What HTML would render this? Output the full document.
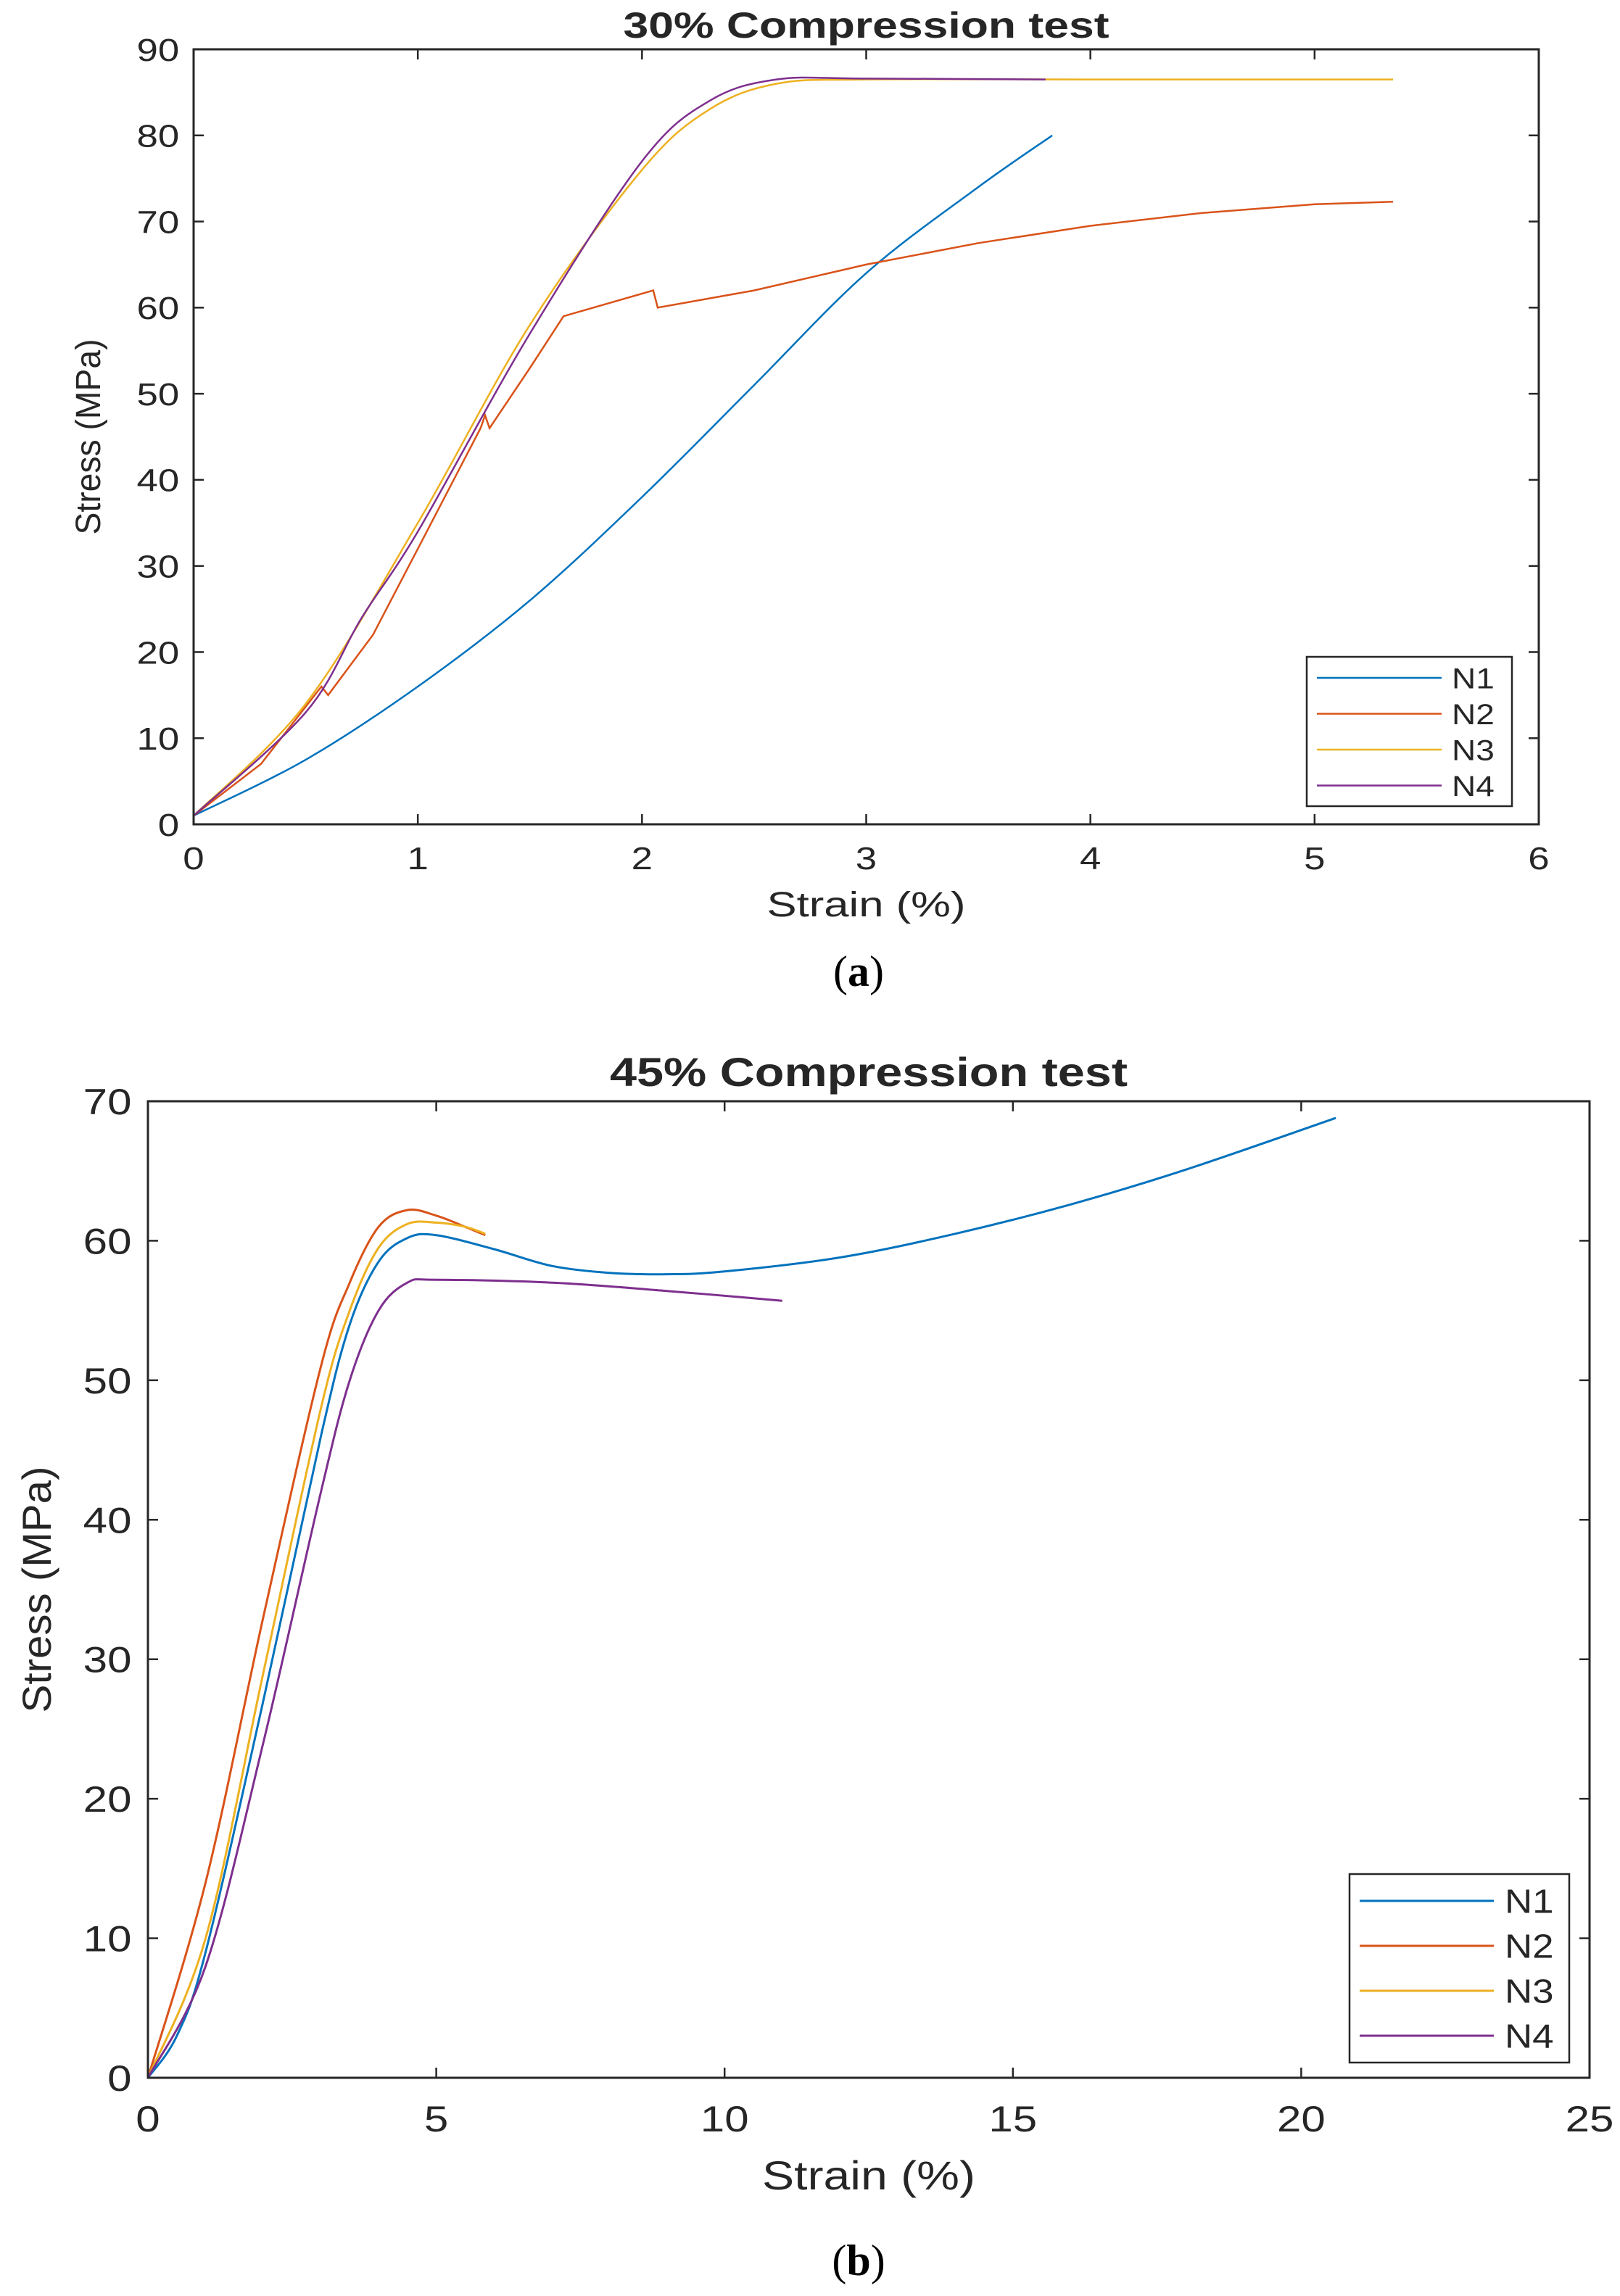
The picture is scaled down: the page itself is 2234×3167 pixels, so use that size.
<!DOCTYPE html>
<html><head><meta charset="utf-8"><style>
body{margin:0;background:#fff}
svg{display:block}
text{font-family:"Liberation Sans",Arial,sans-serif;fill:#262626}
</style></head><body>
<svg id="s" width="2234" height="3167" viewBox="0 0 2234 3167"></svg>
<script>
const aCats=["N1","N2","N3","N4"];
const aN1x=[0,0.5,1,1.5,2,2.5,3,3.5,3.83];
const aN1y=[1,7.5,16,26,38,51,64,74,80];
const aN2x=[0,0.3,0.57,0.6,0.8,1,1.28,1.3,1.32,1.5,1.65,2.05,2.07,2.5,3,3.5,4,4.5,5,5.35];
const aN2y=[1,7,16,15,22,32,46,47.5,46,53,59,62,60,62,65,67.5,69.5,71,72,72.3];
const aN3x=[0,0.5,1,1.5,2,2.3,2.6,3,4,5.35];
const aN3y=[1,14,35,58,76,83,86,86.5,86.5,86.5];
const aN4x=[0,0.5,0.75,1,1.5,2,2.3,2.6,3,3.8];
const aN4y=[1,13,24,34,57,77,84,86.5,86.6,86.5];
const aXTicks=[0,1,2,3,4,5,6];
const aYTicks=[0,10,20,30,40,50,60,70,80,90];

const bN1x=[0,0.5,1,2,3,3.5,4,4.5,5,6,7,8,9,10,12,14,16,18,20.6];
const bN1y=[0,3,9,27,46,54,58.5,60.2,60.4,59.4,58.2,57.7,57.6,57.8,58.8,60.5,62.6,65.1,68.8];
const bN2x=[0,1,2,3,3.5,4,4.5,5,5.5,5.85];
const bN2y=[0,14,33,51,57,61,62.2,61.8,61,60.4];
const bN3x=[0,1,2,3,3.5,4,4.5,5,5.5,5.85];
const bN3y=[0,10,29,48,55,59.5,61.2,61.3,61,60.5];
const bN4x=[0,1,2,3,3.5,4,4.5,5,7,9,11];
const bN4y=[0,8,24,42,50,55,57,57.2,57,56.4,55.7];
const bXTicks=[0,5,10,15,20,25];
const bYTicks=[0,10,20,30,40,50,60,70];

const colors=["#0072BD","#D95319","#EDB120","#7E2F8E"];
const NS="http://www.w3.org/2000/svg";
const svg=document.getElementById('s');
function mk(tag,attrs,parent){const e=document.createElementNS(NS,tag);for(const k in attrs)e.setAttribute(k,attrs[k]);(parent||svg).appendChild(e);return e;}
function stretch(t,f){try{const w=t.getComputedTextLength();if(w>0){t.setAttribute('textLength',(w*f).toFixed(1));t.setAttribute('lengthAdjust','spacingAndGlyphs');}}catch(e){}}
function spline(pts){
  let d="M"+pts[0][0].toFixed(1)+","+pts[0][1].toFixed(1);
  for(let i=0;i<pts.length-1;i++){
    const p0=pts[i-1]||pts[i],p1=pts[i],p2=pts[i+1],p3=pts[i+2]||p2;
    const t=1/6;
    const c1=[p1[0]+(p2[0]-p0[0])*t,p1[1]+(p2[1]-p0[1])*t];
    const c2=[p2[0]-(p3[0]-p1[0])*t,p2[1]-(p3[1]-p1[1])*t];
    d+="C"+c1[0].toFixed(1)+","+c1[1].toFixed(1)+" "+c2[0].toFixed(1)+","+c2[1].toFixed(1)+" "+p2[0].toFixed(1)+","+p2[1].toFixed(1);
  }
  return d;
}
function chart(o){
  const g=mk('g',{});
  
  
  const X=v=>o.L+(v-o.xmin)/(o.xmax-o.xmin)*(o.R-o.L);
  const Y=v=>o.B-(v-o.ymin)/(o.ymax-o.ymin)*(o.B-o.T);
  o.series.forEach((s,i)=>{
    const pts=s[0].map((x,j)=>[X(x),Y(s[1][j])]);
    const p=mk('path',{d:o.sharp&&i==1?("M"+pts.map(q=>q[0].toFixed(1)+","+q[1].toFixed(1)).join("L")):spline(pts),fill:"none",stroke:colors[i],"stroke-width":o.lw},g);
    
    
  });
  const box=mk('rect',{x:o.L,y:o.T,width:o.R-o.L,height:o.B-o.T,fill:"none",stroke:"#262626","stroke-width":3},g);
  
  
  o.xt.forEach(v=>{
    const x=X(v);
    mk('line',{x1:x,y1:o.B,x2:x,y2:o.B-14,stroke:"#262626","stroke-width":2.5},g);
    mk('line',{x1:x,y1:o.T,x2:x,y2:o.T+14,stroke:"#262626","stroke-width":2.5},g);
    const t=mk('text',{x:x,y:o.B+o.xtOff,"font-size":o.fs,"text-anchor":"middle"},g);
    t.textContent=v;
    
    
    stretch(t,1.2);
  });
  o.yt.forEach(v=>{
    const y=Y(v);
    mk('line',{x1:o.L,y1:y,x2:o.L+14,y2:y,stroke:"#262626","stroke-width":2.5},g);
    mk('line',{x1:o.R,y1:y,x2:o.R-14,y2:y,stroke:"#262626","stroke-width":2.5},g);
    const t=mk('text',{x:o.L-o.fs*0.45,y:y+o.fs*0.36,"font-size":o.fs,"text-anchor":"end"},g);
    t.textContent=v;
    
    
    stretch(t,1.2);
  });
  const ti=mk('text',{x:(o.L+o.R)/2,y:o.titleY,"font-size":o.tfs,"font-weight":"bold","text-anchor":"middle"},g);
  ti.textContent=o.title;
  
  
  ti.setAttribute('textLength',o.titleW);ti.setAttribute('lengthAdjust','spacingAndGlyphs');
  const xl=mk('text',{x:(o.L+o.R)/2,y:o.xlY,"font-size":o.lfs,"text-anchor":"middle"},g);
  xl.textContent="Strain (%)";
  
  
  xl.setAttribute('textLength',o.xlW);xl.setAttribute('lengthAdjust','spacingAndGlyphs');
  const yl=mk('text',{x:0,y:0,"font-size":o.lfs,"text-anchor":"middle",transform:"translate("+o.ylX+","+(o.T+o.B)/2+") rotate(-90)"},g);
  yl.textContent="Stress (MPa)";
  
  
  yl.setAttribute('textLength',o.ylW);yl.setAttribute('lengthAdjust','spacingAndGlyphs');
  const lg=o.leg;
  const lb=mk('rect',{x:lg.x,y:lg.y,width:lg.w,height:lg.h,fill:"#fff",stroke:"#262626","stroke-width":2.5},g);
  
  
  aCats.forEach((c,i)=>{
    const y=lg.y+lg.r0+i*lg.dr;
    const ln=mk('line',{x1:lg.x+lg.l1,x2:lg.x+lg.l2,y1:y,y2:y,stroke:colors[i],"stroke-width":o.lw},g);
    
    
    const t=mk('text',{x:lg.x+lg.tx,y:y+lg.fs*0.36,"font-size":lg.fs},g);
    t.textContent=c;
    
    
    stretch(t,1.15);
  });
}
chart({name:"chart-30-percent",L:267,R:2122,T:68,B:1137,xmin:0,xmax:6,ymin:0,ymax:90,xt:aXTicks,yt:aYTicks,fs:44,xtOff:62,lw:2.5,sharp:true,
 series:[[aN1x,aN1y],[aN2x,aN2y],[aN3x,aN3y],[aN4x,aN4y]],title:"30% Compression test",titleY:52,tfs:50,titleW:670,xlY:1264,lfs:48,xlW:274,ylX:138,ylW:270,
 leg:{x:1802,y:906,w:283,h:206,r0:29,dr:49.5,l1:14,l2:186,tx:200,fs:40}});
chart({name:"chart-45-percent",L:204,R:2192,T:1519,B:2866,xmin:0,xmax:25,ymin:0,ymax:70,xt:bXTicks,yt:bYTicks,fs:50,xtOff:74,lw:3,sharp:false,
 series:[[bN1x,bN1y],[bN2x,bN2y],[bN3x,bN3y],[bN4x,bN4y]],title:"45% Compression test",titleY:1498,tfs:56,titleW:714,xlY:3020,lfs:56,xlW:294,ylX:70,ylW:340,
 leg:{x:1861,y:2585,w:303,h:260,r0:37,dr:62,l1:14,l2:199,tx:214,fs:46}});
</script>
<svg style="position:absolute;left:0;top:0" width="2234" height="3167">
<text x="1184" y="1360" text-anchor="middle" font-size="60" style="font-family:'Liberation Serif',serif;fill:#000">(<tspan font-weight="bold">a</tspan>)</text>
<text x="1184" y="3138" text-anchor="middle" font-size="60" style="font-family:'Liberation Serif',serif;fill:#000">(<tspan font-weight="bold">b</tspan>)</text>
</svg>
</body></html>
